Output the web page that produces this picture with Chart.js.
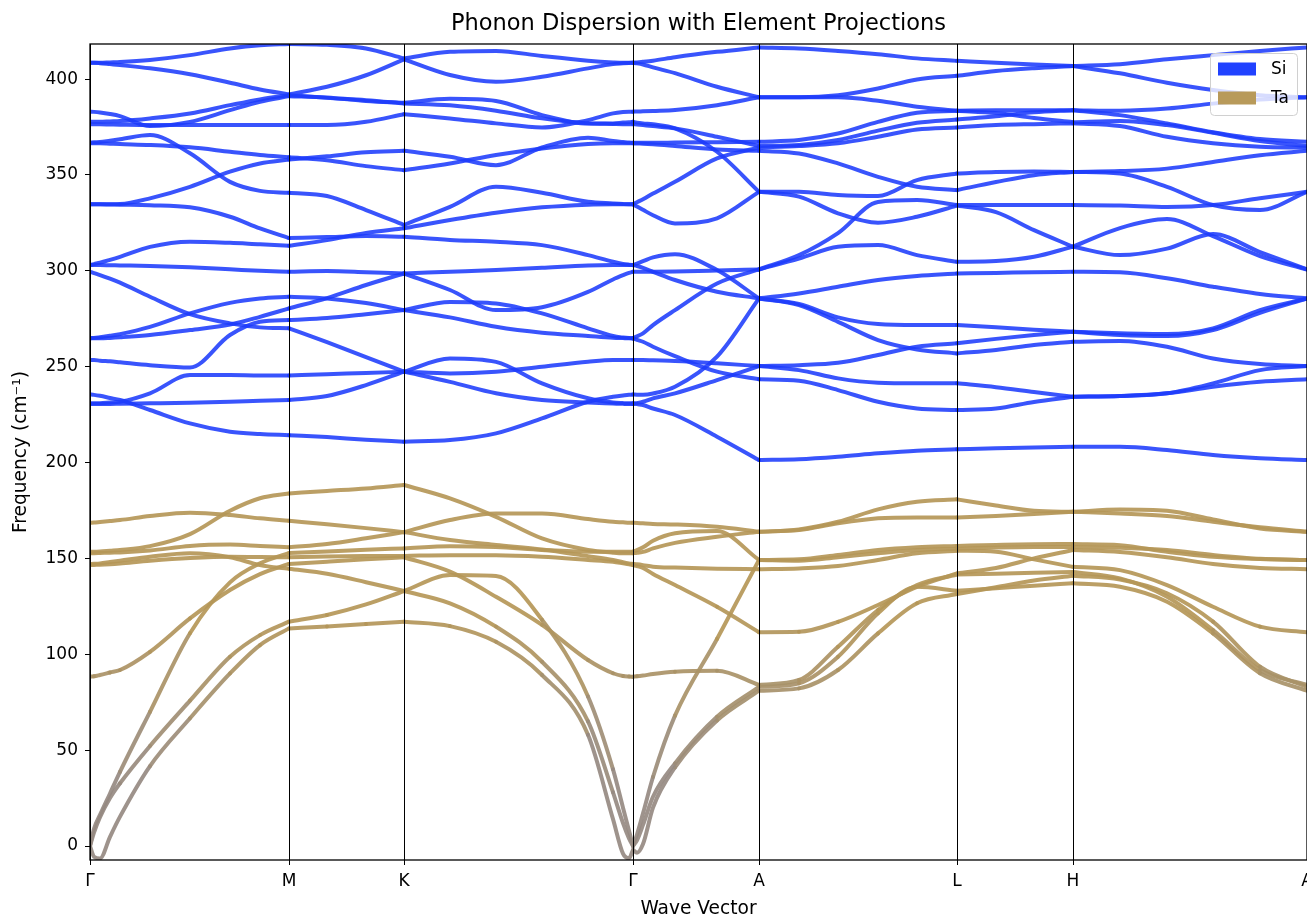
<!DOCTYPE html>
<html>
<head>
<meta charset="utf-8">
<title>Phonon Dispersion with Element Projections</title>
<script src="https://cdn.jsdelivr.net/npm/chart.js@4.4.1/dist/chart.umd.min.js"></script>
<style>
    html, body { margin: 0; padding: 0; background: #ffffff; }
    #wrap { width: 1307px; height: 918px; }
</style>
</head>
<body>
<div id="wrap"><canvas id="bandChart" width="1307" height="918"></canvas></div>
<script>
// high-symmetry path
const kLabels = ['Γ', 'M', 'K', 'Γ', 'A', 'L', 'H', 'A'];
const kPos = [0, 199, 314, 543, 669, 867, 983, 1217];
const freqTicks = [0, 50, 100, 150, 200, 250, 300, 350, 400];

// sample positions along each segment of the path
const kGM = [0, 4, 10, 20, 30, 60, 100, 140, 170, 199];
const kMK = [199, 237, 276, 314];
const kKG = [314, 360, 406, 452, 498, 523, 533, 539, 543];
const kGA = [543, 547, 553, 563, 585, 627, 669];
const kAL = [669, 709, 748, 788, 827, 867];
const kLH = [867, 906, 944, 983];
const kHA = [983, 1030, 1077, 1123, 1170, 1217];

// frequencies (cm-1), Si-dominated branches
const siGM = [
    [408.5, 408.5, 408.5, 408.7, 408.9, 410, 412.5, 416, 417.7, 418.3],
    [408.5, 408.5, 408.3, 407.8, 407.3, 405.6, 402.5, 398.1, 394.6, 392],
    [383, 382.9, 382.6, 381.8, 380.7, 375.5, 377.7, 383.8, 388.2, 391.1],
    [377.7, 377.7, 377.7, 377.9, 378.1, 379.5, 382.1, 386.4, 389.4, 391.6],
    [376.5, 376.5, 376.4, 376.3, 376.2, 376, 376, 376, 376, 376],
    [366.8, 367, 367.2, 367.9, 368.6, 370.8, 361.3, 346.4, 341.7, 340.7],
    [366.5, 366.5, 366.5, 366.3, 366.1, 365.6, 364.4, 362.1, 360.4, 359.2],
    [334.7, 334.7, 334.7, 334.7, 334.8, 337.8, 343.8, 351.7, 356, 358],
    [334.7, 334.7, 334.7, 334.6, 334.5, 334.2, 333.1, 328.2, 322.1, 317.1],
    [303, 303.5, 304.2, 305.7, 307.3, 312.5, 315.2, 314.6, 313.8, 313.1],
    [303, 303, 303, 302.9, 302.8, 302.5, 301.8, 300.8, 300, 299.5],
    [299.5, 298.8, 297.8, 295.9, 293.8, 286.5, 277.4, 272.6, 270.5, 270],
    [264.8, 265, 265.3, 266.1, 267, 270.8, 277.8, 283.3, 285.6, 286.5],
    [264.8, 264.8, 264.8, 265, 265.3, 266.5, 269.1, 272, 276, 280.4],
    [253.5, 253.5, 253.1, 252.8, 252.3, 250.8, 249.6, 266.5, 273.4, 274.3],
    [235.5, 235.3, 234.8, 233.7, 232.6, 227.4, 220.4, 216.1, 214.9, 214.3],
    [230.9, 230.9, 230.9, 231.3, 231.7, 236.1, 245.6, 245.6, 245.4, 245.4],
    [230.5, 230.5, 230.6, 230.6, 230.7, 230.9, 231.2, 231.7, 232.2, 232.6]
];
const siMK = [
    [418.3, 417.9, 416, 410.8],
    [392, 396, 402, 410.3],
    [391.1, 390.4, 388.6, 387.6],
    [391.6, 390.2, 389, 387.3],
    [376, 376, 377.7, 381.7],
    [358, 359.7, 361.8, 362.6],
    [359.2, 357.7, 354.6, 352.5],
    [340.7, 339, 331.7, 323.9],
    [313.1, 316, 319.7, 322.2],
    [317.1, 317.6, 318.1, 317.8],
    [299.5, 299.9, 299.3, 298.6],
    [286.5, 285.6, 283.2, 279.5],
    [280.4, 285.8, 292.6, 298.6],
    [274.3, 275.4, 277.4, 279.5],
    [270, 262.8, 255, 247.4],
    [245.4, 246.1, 246.7, 247.4],
    [232.6, 234.7, 240.4, 247.4],
    [214.3, 213.3, 211.9, 210.9]
];
const siKG = [
    [410.8, 414.2, 414.7, 412, 409.6, 408.7, 408.5, 408.5, 408.5],
    [410.3, 402.1, 398.6, 401.2, 405.6, 407.8, 408.2, 408.4, 408.5],
    [387.6, 389.7, 388.6, 381.2, 376.8, 376.9, 377.3, 377.5, 377.7],
    [387.3, 386.3, 383.5, 379.5, 376.9, 376.6, 376.5, 376.5, 376.5],
    [381.7, 379.5, 376.9, 374.8, 378.6, 382.1, 382.8, 383, 383],
    [362.6, 359.5, 355.1, 364.3, 369.4, 367.7, 367.2, 366.9, 366.8],
    [352.5, 356, 360.4, 363.8, 366.1, 366.5, 366.5, 366.5, 366.5],
    [323.9, 333.4, 343.8, 340.7, 336, 335.1, 334.8, 334.7, 334.7],
    [322.2, 326.5, 330.3, 333.1, 334.5, 334.7, 334.7, 334.7, 334.7],
    [317.8, 316.1, 315.2, 313.4, 308.2, 304.7, 303.6, 303.2, 303],
    [298.6, 299.5, 300.4, 301.6, 302.8, 303, 303, 303, 303],
    [298.6, 290, 279.5, 281, 289, 295.5, 297.7, 298.9, 299.5],
    [279.5, 283.8, 283, 277.8, 270, 266, 265.2, 264.9, 264.8],
    [279.5, 275.7, 270.8, 267.7, 266, 265.1, 264.9, 264.8, 264.8],
    [247.4, 254.3, 252.5, 241.3, 233.5, 231.3, 231, 230.9, 230.9],
    [247.4, 246.5, 247.4, 250, 252.6, 253.5, 253.5, 253.5, 253.5],
    [247.4, 242.1, 236.1, 232.6, 231.3, 230.8, 230.6, 230.5, 230.5],
    [210.9, 211.7, 215.2, 223, 231.7, 234.3, 235, 235.3, 235.5]
];
const siGA = [
    [408.5, 408.7, 409, 409.6, 411.4, 414.2, 416.5],
    [408.5, 408.2, 407.6, 406.1, 403.1, 396, 390.5],
    [383, 383.1, 383.2, 383.4, 383.9, 386.4, 390.5],
    [377.7, 377.3, 376.9, 376.4, 374.3, 362.1, 341.2],
    [376.5, 376.3, 376, 375.5, 374.3, 369.9, 365.1],
    [366.8, 366.8, 366.8, 366.8, 366.9, 367.1, 367.3],
    [366.5, 366.4, 366.3, 366, 365.1, 363.3, 362.6],
    [334.7, 335.8, 337.3, 340.3, 346.4, 358.6, 364.3],
    [334.7, 333.5, 331.8, 329, 324.7, 327.4, 341.2],
    [303, 303.8, 305, 307, 308.7, 300.4, 285.6],
    [299.5, 299.5, 299.5, 299.5, 299.6, 300.1, 300.7],
    [303, 302.5, 301.5, 299.5, 295.2, 289.1, 285.6],
    [264.8, 265.8, 267.4, 271.7, 279.5, 293.4, 300.7],
    [264.8, 264, 263, 260.4, 255.5, 247.4, 243.4],
    [253.5, 253.5, 253.5, 253.3, 253, 251.8, 250.3],
    [235.5, 235.4, 235.3, 236, 239.5, 255.2, 285.6],
    [230.9, 230.5, 230, 228.2, 224.8, 213.5, 201.3],
    [230.5, 231, 231.7, 233.5, 236.1, 243, 250.3]
];
const siAL = [
    [416.5, 416, 414.7, 413, 410.8, 409.5],
    [390.5, 390.5, 390.5, 388.7, 385.6, 383.5],
    [390.5, 390.5, 391.6, 395.1, 399.8, 401.7],
    [367.3, 368.2, 371.6, 377.7, 382.4, 383.5],
    [365.1, 365.6, 368.2, 373.1, 377.2, 378.9],
    [364.3, 365.1, 366.5, 369.9, 373.7, 374.8],
    [362.6, 361.2, 356, 349, 343.8, 342.1],
    [341.2, 341.2, 339.5, 339, 347.3, 350.8],
    [341.2, 338.7, 330, 325.1, 328.2, 334],
    [300.7, 308.2, 319.7, 335.9, 336.9, 334.3],
    [300.7, 306.4, 312.5, 313.4, 308.2, 304.7],
    [285.6, 288.2, 291.7, 295.2, 297.3, 298.6],
    [285.6, 282.7, 275.7, 272.2, 271.7, 271.7],
    [285.6, 282.1, 273.4, 263.9, 259, 256.9],
    [250.3, 250.8, 252, 256.1, 260.4, 262.2],
    [250.3, 248.2, 243.9, 241.6, 241.3, 241.3],
    [243.4, 242.7, 237.8, 231.7, 228.2, 227.4],
    [201.3, 201.7, 203, 204.8, 206.2, 206.9]
];
const siLH = [
    [409.5, 408.5, 407.6, 406.8],
    [401.7, 404.2, 405.7, 406.8],
    [383.5, 383.7, 383.8, 383.8],
    [383.5, 382.3, 379.7, 377.5],
    [378.9, 380.6, 382.7, 383.8],
    [374.8, 376, 376.5, 376.9],
    [350.8, 351.5, 351.8, 351.6],
    [342.1, 346.3, 349.9, 351.6],
    [334, 330.6, 321.2, 312.6],
    [334.3, 334.3, 334.3, 334.3],
    [304.7, 305.1, 307.3, 312.6],
    [298.6, 298.9, 299.3, 299.5],
    [271.7, 270.6, 269.3, 268.2],
    [262.2, 264.5, 266.5, 268.2],
    [256.9, 258.7, 261.3, 263],
    [241.3, 239.3, 236.8, 234.3],
    [227.4, 228.2, 231.6, 234.3],
    [206.9, 207.4, 207.9, 208.2]
];
const siHA = [
    [406.8, 407.8, 410.3, 412.5, 414.7, 416.5],
    [406.8, 403, 398.1, 394.3, 391.6, 390.5],
    [383.8, 383.5, 384.6, 387.2, 389.3, 390.5],
    [383.8, 381.2, 376.9, 372.3, 368.7, 367.3],
    [377.5, 378.1, 376, 372, 367.7, 365.1],
    [376.9, 375.5, 369.9, 366.5, 364.7, 364.3],
    [351.6, 352, 353.3, 356.8, 360.3, 362.6],
    [351.6, 350.7, 343.8, 334.3, 331.7, 341.2],
    [334.3, 334.1, 333.3, 334.3, 337.9, 341.2],
    [312.6, 322.3, 327, 318.1, 307.7, 300.7],
    [312.6, 308.2, 311.6, 319.2, 309.8, 300.7],
    [299.5, 299.2, 296.1, 291.7, 287.9, 285.6],
    [268.2, 267.4, 267, 270, 279.5, 285.6],
    [268.2, 266.5, 266, 269.1, 278.1, 285.6],
    [263, 263.4, 260.4, 254.3, 251.4, 250.3],
    [234.3, 234.7, 236.1, 241.3, 248.2, 250.3],
    [234.3, 234.7, 236.1, 239.5, 242.1, 243.4],
    [208.2, 208.2, 206.5, 203.9, 202.2, 201.3]
];

// frequencies (cm-1), Ta-dominated branches
const taGM = [
    [168.6, 168.7, 169, 169.5, 170, 172.1, 173.8, 172.6, 170.9, 169.6],
    [153.5, 153.5, 153.6, 154, 154.4, 156.4, 162.7, 174.9, 181.4, 183.9],
    [152.7, 152.7, 152.8, 153, 153.1, 154.1, 156.5, 157.2, 156.5, 155.8],
    [147.1, 147.2, 147.4, 148.1, 148.8, 150.9, 152.7, 150.6, 146.5, 144.6],
    [146.5, 146.6, 146.7, 147, 147.4, 148.8, 150.2, 150.9, 150.7, 150.6],
    [88.3, 88.5, 89.2, 90.5, 91.8, 101.3, 118.7, 133.5, 141.8, 147.1],
    [0, 9, 16.2, 27.4, 38.7, 70, 111, 137.5, 147.4, 152.8],
    [0, 7, 15, 25, 32.7, 52.2, 75.8, 98.7, 110, 117],
    [0, -5.6, -6.5, 4.8, 15.3, 41.7, 66.6, 90, 104.8, 113.5]
];
const taMK = [
    [183.9, 185.2, 186.5, 188.3],
    [169.6, 167.8, 165.8, 163.7],
    [155.8, 157.5, 160.5, 163.7],
    [152.8, 153.6, 154.5, 155.2],
    [150.6, 151, 151.2, 151.3],
    [147.1, 148.3, 149.5, 150.6],
    [144.6, 142, 137.6, 133],
    [117, 120.5, 126, 133],
    [113.5, 114.5, 115.8, 117]
];
const taKG = [
    [188.3, 181.3, 171.7, 160.4, 154.4, 153, 152.7, 152.7, 152.7],
    [163.7, 170, 173.4, 173.4, 170.5, 169.1, 168.8, 168.6, 168.6],
    [163.7, 159.6, 157, 154.7, 151.2, 149.2, 148, 147.4, 147.1],
    [155.2, 156.4, 155.9, 154.4, 153.5, 153.5, 153.5, 153.5, 153.5],
    [151.3, 151.7, 151.7, 150.9, 149.2, 148.2, 147.4, 146.9, 146.5],
    [150.6, 143.1, 130, 115.3, 97, 90.1, 88.7, 88.4, 88.3],
    [133, 141.3, 140.8, 118, 78, 40, 20, 8, 0],
    [133, 126.6, 114.4, 96.1, 65, 28, 12, 4, 0],
    [117, 114.7, 106.5, 89.2, 58, 14, -4, -6.4, -2]
];
const taGA = [
    [168.6, 168.5, 168.3, 168, 167.7, 166.5, 163.9],
    [153.5, 154.3, 155.8, 159.2, 163.1, 164.3, 149.2],
    [152.7, 152.9, 153.4, 155.2, 158.1, 161.3, 163.9],
    [147.1, 146.9, 146.5, 145.7, 145.2, 144.6, 144.4],
    [146.5, 146, 145, 141.9, 136.1, 124.8, 111.5],
    [88.3, 88.5, 88.9, 89.7, 90.9, 91.4, 84],
    [0, 6, 17, 36, 68, 108, 149.2],
    [0, 3, 11, 25.7, 43.1, 67.4, 83],
    [-2, -3.5, 1, 20, 41, 65.5, 81]
];
const taAL = [
    [163.9, 165.1, 169.1, 175.6, 179.6, 180.8],
    [163.9, 164.8, 168.3, 170.9, 171.4, 171.4],
    [149.2, 149.5, 151.8, 154.4, 155.8, 156.5],
    [149.2, 148.8, 150.6, 152.7, 154.4, 155.1],
    [144.4, 144.8, 146, 149.2, 152.7, 154],
    [111.5, 111.7, 116.9, 125.7, 135.2, 142.2],
    [84, 86.6, 103.9, 123.1, 136.1, 141.6],
    [83, 84.9, 98.7, 121.4, 135.2, 133.1],
    [81, 82.2, 91.8, 110.9, 126.6, 131.4]
];
const taLH = [
    [180.8, 177.6, 174.8, 174.3],
    [171.4, 172.1, 173.1, 174.3],
    [156.5, 157, 157.4, 157.5],
    [155.1, 155.7, 156, 156],
    [154, 153.5, 149.5, 145.6],
    [142.2, 145, 150, 154.4],
    [141.6, 142, 142.5, 142.9],
    [133.1, 134.4, 135.8, 137],
    [131.4, 135, 138.5, 141]
];
const taHA = [
    [174.3, 175.5, 174.8, 170.3, 165.6, 163.9],
    [174.3, 173.4, 172.1, 169.1, 166.2, 163.9],
    [157.5, 156.9, 153.5, 150.9, 149.7, 149.2],
    [156, 155.5, 154.4, 151.8, 149.8, 149.2],
    [154.4, 153.3, 150.6, 147.1, 145, 144.4],
    [145.6, 143.9, 136.1, 124.8, 114.4, 111.5],
    [142.9, 139.6, 130, 112.6, 91.8, 84],
    [141, 139, 131.8, 117, 93.5, 83],
    [137, 135.2, 127.4, 110.9, 90.1, 81]
];

const SI_COLOR = 'rgba(30, 60, 252, 0.88)';
const SI_PATCH = '#2142ff';
const TA_PATCH = '#b89a5a';
const TA_RGB = [181, 151, 88];
const MIX_RGB = [150, 138, 130];
const FONT = "'DejaVu Sans', 'Liberation Sans', sans-serif";

// acoustic / low branches fade from Ta brown to a greyish mix
function taShade(y) {
    const t = Math.min(1, Math.max(0, (120 - y) / 85));
    const c = TA_RGB.map((v, i) => Math.round(v + (MIX_RGB[i] - v) * t));
    return 'rgba(' + c[0] + ', ' + c[1] + ', ' + c[2] + ', 0.92)';
}

function makeBand(grid, values, element) {
    const ds = {
        label: element,
        data: grid.map((x, i) => ({ x: x, y: values[i] })),
        borderWidth: 4,
        pointRadius: 0,
        fill: false,
        cubicInterpolationMode: 'monotone',
        borderCapStyle: 'round',
        borderJoinStyle: 'round'
    };
    if (element === 'Si') {
        ds.borderColor = SI_COLOR;
    } else {
        ds.borderColor = taShade(values[0]);
        ds.segment = {
            borderColor: ctx => taShade((ctx.p0.parsed.y + ctx.p1.parsed.y) / 2)
        };
    }
    return ds;
}

const grids = [kGM, kMK, kKG, kGA, kAL, kLH, kHA];
const siSegs = [siGM, siMK, siKG, siGA, siAL, siLH, siHA];
const taSegs = [taGM, taMK, taKG, taGA, taAL, taLH, taHA];

const datasets = [];
grids.forEach((grid, s) => {
    taSegs[s].forEach(band => datasets.push(makeBand(grid, band, 'Ta')));
    siSegs[s].forEach(band => datasets.push(makeBand(grid, band, 'Si')));
});

// vertical lines at the high-symmetry points and the axes frame, on top of the bands
const framePlugin = {
    id: 'frame',
    afterDatasetsDraw(chart) {
        const { ctx, chartArea: a, scales } = chart;
        ctx.save();
        ctx.strokeStyle = '#000';
        ctx.lineWidth = 1;
        kPos.forEach(k => {
            const x = Math.round(scales.x.getPixelForValue(k)) + 0.5;
            ctx.beginPath();
            ctx.moveTo(x, a.top);
            ctx.lineTo(x, a.bottom);
            ctx.stroke();
        });
        ctx.lineWidth = 1.3;
        ctx.strokeRect(a.left, a.top, a.right - a.left, a.bottom - a.top);
        ctx.restore();
    }
};

const legendPlugin = {
    id: 'elementLegend',
    afterDraw(chart) {
        const { ctx, chartArea: a } = chart;
        const x0 = a.right - 97, y0 = a.top + 9, w = 87, h = 62;
        ctx.save();
        ctx.beginPath();
        ctx.roundRect(x0 + 0.5, y0 + 0.5, w, h, 4);
        ctx.fillStyle = 'rgba(255, 255, 255, 0.8)';
        ctx.fill();
        ctx.strokeStyle = '#d0d0d0';
        ctx.lineWidth = 1;
        ctx.stroke();
        const items = [['Si', SI_PATCH], ['Ta', TA_PATCH]];
        ctx.font = '17px ' + FONT;
        ctx.textBaseline = 'middle';
        items.forEach((it, i) => {
            const yc = y0 + 16 + i * 29;
            ctx.fillStyle = it[1];
            ctx.fillRect(x0 + 8, yc - 6.5, 38, 13);
            ctx.fillStyle = '#000';
            ctx.fillText(it[0], x0 + 61, yc + 1);
        });
        ctx.restore();
    }
};

new Chart(document.getElementById('bandChart'), {
    type: 'line',
    data: { datasets: datasets },
    options: {
        responsive: false,
        devicePixelRatio: 1,
        animation: false,
        events: [],
        layout: { padding: { left: 0, right: 0, top: 0, bottom: 0 } },
        scales: {
            x: {
                type: 'linear',
                min: 0,
                max: 1217,
                border: { display: false },
                grid: { drawOnChartArea: false, drawTicks: true, tickLength: 5, color: '#000', tickColor: '#000', tickWidth: 1 },
                afterBuildTicks: scale => { scale.ticks = kPos.map(v => ({ value: v })); },
                afterFit: scale => { scale.height = 58; scale.paddingLeft = 0; scale.paddingRight = 0; },
                ticks: {
                    autoSkip: false,
                    maxRotation: 0,
                    padding: 6,
                    color: '#000',
                    font: { family: FONT, size: 17 },
                    callback: (value, index) => kLabels[index]
                },
                title: {
                    display: true,
                    text: 'Wave Vector',
                    color: '#000',
                    font: { family: FONT, size: 18.6, lineHeight: 1 },
                    padding: { top: 0, bottom: 0 }
                }
            },
            y: {
                type: 'linear',
                min: -7.3,
                max: 418.3,
                border: { display: false },
                grid: { drawOnChartArea: false, drawTicks: true, tickLength: 5, color: '#000', tickColor: '#000', tickWidth: 1 },
                afterBuildTicks: scale => { scale.ticks = freqTicks.map(v => ({ value: v })); },
                afterFit: scale => { scale.width = 90; scale.paddingTop = 0; scale.paddingBottom = 0; },
                ticks: {
                    padding: 7,
                    color: '#000',
                    font: { family: FONT, size: 17 }
                },
                title: {
                    display: true,
                    text: 'Frequency (cm⁻¹)',
                    color: '#000',
                    font: { family: FONT, size: 18.6, lineHeight: 1 },
                    padding: { top: 12, bottom: 0 }
                }
            }
        },
        plugins: {
            legend: { display: false },
            tooltip: { enabled: false },
            title: {
                display: true,
                fullSize: false,
                text: 'Phonon Dispersion with Element Projections',
                color: '#000',
                font: { family: FONT, size: 22.5, weight: 'normal', lineHeight: 1.2 },
                padding: { top: 10.5, bottom: 6.5 }
            }
        }
    },
    plugins: [framePlugin, legendPlugin]
});
</script>
</body>
</html>
